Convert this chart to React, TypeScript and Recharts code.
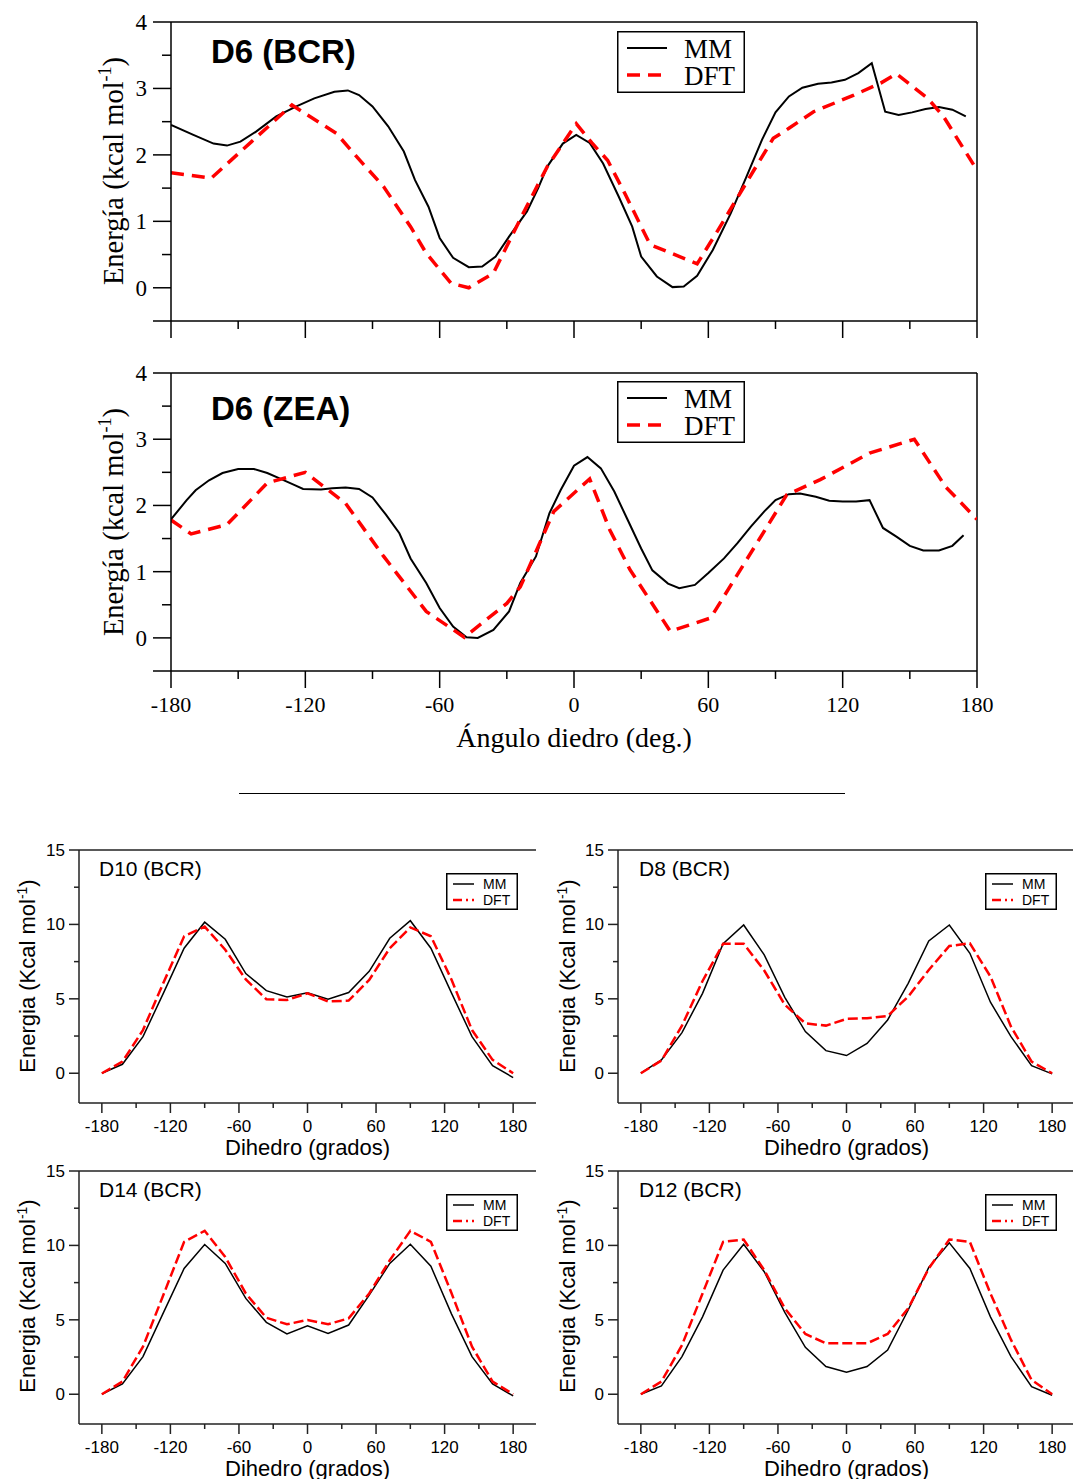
import { LineChart, Line, XAxis, YAxis, ReferenceLine, Legend } from 'recharts';

const SERIF = '"Liberation Serif", "Times New Roman", serif';
const SANS = '"Liberation Sans", Arial, sans-serif';

// ---- D6 (BCR) ----
const d6BcrMmAngles = [-180, -170, -161, -155, -149, -142, -133, -124, -116, -107, -101, -96, -90, -83, -76, -71, -65, -60, -54, -47, -41, -35, -29, -21, -16, -12, -5, 1, 7, 13, 20, 26, 30, 37, 44, 49, 55, 62, 70, 77, 84, 90, 96, 102, 109, 115, 121, 127, 133, 139, 145, 151, 157, 163, 169, 175];
const d6BcrMmEnergy = [2.45, 2.3, 2.17, 2.14, 2.2, 2.35, 2.58, 2.73, 2.85, 2.95, 2.97, 2.9, 2.73, 2.43, 2.05, 1.62, 1.22, 0.75, 0.45, 0.31, 0.32, 0.47, 0.77, 1.15, 1.5, 1.82, 2.17, 2.3, 2.18, 1.87, 1.37, 0.92, 0.47, 0.17, 0.01, 0.02, 0.18, 0.57, 1.12, 1.67, 2.23, 2.64, 2.88, 3.01, 3.07, 3.09, 3.13, 3.23, 3.38, 2.65, 2.6, 2.64, 2.69, 2.72, 2.68, 2.58];
const d6BcrDftAngles = [-180, -162, -144, -126, -106, -97, -85, -73, -66, -55, -47, -36, -23, -12, 1, 8, 15, 23, 34, 55, 64, 72, 80, 89, 96, 107, 125, 137, 144, 158, 165, 180];
const d6BcrDftEnergy = [1.73, 1.65, 2.2, 2.75, 2.32, 1.97, 1.52, 0.92, 0.52, 0.07, 0.0, 0.22, 1.1, 1.82, 2.47, 2.18, 1.92, 1.4, 0.65, 0.36, 0.85, 1.3, 1.75, 2.25, 2.4, 2.65, 2.9, 3.08, 3.22, 2.85, 2.58, 1.77];

// ---- D6 (ZEA) ----
const d6ZeaMmAngles = [-180, -173, -169, -163, -157, -150, -143, -137, -131, -125, -121, -113, -108, -102, -96, -90, -84, -78, -73, -66, -60, -54, -48, -43, -36, -29, -24, -17, -11, -6, 0, 6, 12, 18, 24, 30, 35, 42, 47, 54, 60, 67, 73, 79, 85, 90, 96, 101, 108, 114, 120, 126, 132, 138, 144, 150, 156, 163, 169, 174];
const d6ZeaMmEnergy = [1.79, 2.08, 2.23, 2.38, 2.49, 2.55, 2.55, 2.49, 2.4, 2.31, 2.25, 2.24, 2.26, 2.27, 2.25, 2.12, 1.86, 1.58, 1.2, 0.83, 0.45, 0.17, 0.01, 0.0, 0.12, 0.4, 0.83, 1.23, 1.88, 2.23, 2.6, 2.73, 2.56, 2.21, 1.78, 1.35, 1.02, 0.82, 0.75, 0.8, 0.98, 1.2, 1.43, 1.68, 1.91, 2.08, 2.17, 2.18, 2.13, 2.07, 2.06, 2.06, 2.08, 1.66, 1.53, 1.39, 1.32, 1.32, 1.39, 1.55];
const d6ZeaDftAngles = [-180, -171, -155, -137, -120, -102, -85, -66, -49, -30, -24, -9, 7, 16, 25, 43, 61, 95, 110, 132, 152, 166, 180];
const d6ZeaDftEnergy = [1.78, 1.57, 1.71, 2.34, 2.5, 2.03, 1.23, 0.4, 0.01, 0.52, 0.77, 1.91, 2.4, 1.63, 1.03, 0.1, 0.3, 2.16, 2.39, 2.79, 3.0, 2.28, 1.79];

// ---- bottom panels, every 18 degrees ----
const dihedralAngles = [-180, -162, -144, -126, -108, -90, -72, -54, -36, -18, 0, 18, 36, 54, 72, 90, 108, 126, 144, 162, 180];
const d10Mm = [0, 0.6, 2.46, 5.4, 8.4, 10.15, 9.0, 6.7, 5.55, 5.13, 5.4, 4.97, 5.42, 6.85, 9.07, 10.25, 8.4, 5.4, 2.46, 0.51, -0.29];
const d10Dft = [0, 0.78, 2.9, 6.1, 9.2, 9.85, 8.3, 6.3, 4.97, 4.92, 5.37, 4.82, 4.88, 6.27, 8.4, 9.8, 9.2, 6.3, 2.9, 0.9, 0];
const d8Mm = [0, 0.9, 2.73, 5.37, 8.7, 9.96, 7.95, 5.1, 2.8, 1.52, 1.19, 2.0, 3.58, 6.04, 8.89, 9.96, 8.06, 4.77, 2.46, 0.51, -0.04];
const d8Dft = [0, 0.85, 3.2, 6.2, 8.7, 8.7, 6.9, 4.6, 3.35, 3.2, 3.65, 3.7, 3.85, 5.15, 6.94, 8.55, 8.73, 6.5, 3.13, 0.78, 0];
const d14Mm = [0, 0.69, 2.53, 5.5, 8.45, 10.06, 8.79, 6.44, 4.83, 4.05, 4.6, 4.09, 4.65, 6.66, 8.79, 10.08, 8.6, 5.4, 2.53, 0.69, -0.11];
const d14Dft = [0, 0.85, 3.2, 6.7, 10.24, 10.98, 9.23, 6.77, 5.14, 4.7, 4.99, 4.7, 5.1, 6.77, 9.0, 10.98, 10.24, 6.8, 3.2, 0.85, 0];
const d12Mm = [0, 0.56, 2.53, 5.2, 8.34, 10.08, 8.23, 5.5, 3.15, 1.86, 1.48, 1.86, 2.97, 5.66, 8.52, 10.17, 8.45, 5.2, 2.53, 0.51, -0.07];
const d12Dft = [0, 0.85, 3.3, 6.77, 10.24, 10.4, 8.34, 5.77, 4.05, 3.42, 3.42, 3.42, 4.05, 5.77, 8.45, 10.4, 10.24, 6.77, 3.65, 0.96, 0];

// ticks
const bigXTicks = [-180, -150, -120, -90, -60, -30, 0, 30, 60, 90, 120, 150, 180];
const bigXLabels = [-180, -120, -60, 0, 60, 120, 180];
const bigYTicks = [-0.5, 0, 0.5, 1, 1.5, 2, 2.5, 3, 3.5, 4];
const bigYLabels = [0, 1, 2, 3, 4];
const smallXTicks = bigXTicks;
const smallXLabels = bigXLabels;
const smallYTicks = [0, 2.5, 5, 7.5, 10, 12.5, 15];
const smallYLabels = [0, 5, 10, 15];

const toPoints = (angles: number[], values: number[]) =>
  angles.map((a, i) => ({ a, e: values[i] }));

const makeYTick = (longTicks: number[], labels: number[], major: number, minor: number, gap: number, font: string, size: number, color: string) =>
  (props: any) => {
    const { x, y, payload } = props;
    const v = payload.value;
    const len = longTicks.includes(v) ? major : minor;
    return (
      <g>
        <line x1={x - len} x2={x} y1={y} y2={y} stroke={color} strokeWidth={1.5} />
        {labels.includes(v) && (
          <text x={x - major - gap} y={y} dy="0.35em" textAnchor="end" fontFamily={font} fontSize={size} fill="#000">
            {v}
          </text>
        )}
      </g>
    );
  };

const makeXTick = (labels: number[], showLabels: boolean, major: number, minor: number, labelDy: number, font: string, size: number, color: string) =>
  (props: any) => {
    const { x, y, payload } = props;
    const v = payload.value;
    const len = labels.includes(v) ? major : minor;
    return (
      <g>
        <line x1={x} x2={x} y1={y} y2={y + len} stroke={color} strokeWidth={1.5} />
        {showLabels && labels.includes(v) && (
          <text x={x} y={y + labelDy} textAnchor="middle" fontFamily={font} fontSize={size} fill="#000">
            {v}
          </text>
        )}
      </g>
    );
  };

function BigLegend() {
  return (
    <svg width={128} height={62}>
      <rect x={0.75} y={0.75} width={126.5} height={60.5} fill="#fff" stroke="#000" strokeWidth={1.5} />
      <line x1={10} x2={50} y1={17} y2={17} stroke="#000" strokeWidth={2} />
      <text x={67} y={27} fontFamily={SERIF} fontSize={27}>MM</text>
      <line x1={10} x2={50} y1={44} y2={44} stroke="#ff0000" strokeWidth={3.5} strokeDasharray="13 8" />
      <text x={67} y={54} fontFamily={SERIF} fontSize={27}>DFT</text>
    </svg>
  );
}

function SmallLegend() {
  return (
    <svg width={72} height={37}>
      <rect x={0.75} y={0.75} width={70.5} height={35.5} fill="#fff" stroke="#000" strokeWidth={1.5} />
      <line x1={7} x2={28} y1={11} y2={11} stroke="#000" strokeWidth={1.5} />
      <text x={37} y={16} fontFamily={SANS} fontSize={14}>MM</text>
      <line x1={7} x2={28} y1={27} y2={27} stroke="#ff0000" strokeWidth={2.5} strokeDasharray="9 4 2 4" />
      <text x={37} y={32} fontFamily={SANS} fontSize={14}>DFT</text>
    </svg>
  );
}

interface BigPanelProps {
  title: string;
  mm: { a: number; e: number }[];
  dft: { a: number; e: number }[];
  height: number;
  plotTop: number;
  xAxisHeight: number;
  showXLabels: boolean;
  titleY: number;
  labelY: number;
  legendTop: number;
}

function BigPanel({ title, mm, dft, height, plotTop, xAxisHeight, showXLabels, titleY, labelY, legendTop }: BigPanelProps) {
  return (
    <LineChart width={1073} height={height} margin={{ top: plotTop, right: 96, left: 0, bottom: 0 }}>
      <XAxis
        dataKey="a"
        type="number"
        domain={[-180, 180]}
        allowDataOverflow
        ticks={bigXTicks}
        interval={0}
        height={xAxisHeight}
        tickSize={0}
        tickMargin={0}
        tickLine={false}
        axisLine={{ stroke: '#000', strokeWidth: 1.5 }}
        tick={makeXTick(bigXLabels, showXLabels, 17, 8, 41, SERIF, 22, '#000')}
      />
      <YAxis
        type="number"
        domain={[-0.5, 4]}
        allowDataOverflow
        ticks={bigYTicks}
        interval={0}
        width={171}
        tickSize={0}
        tickMargin={0}
        tickLine={false}
        axisLine={{ stroke: '#000', strokeWidth: 1.5 }}
        tick={makeYTick([-0.5, 0, 1, 2, 3, 4], bigYLabels, 18, 9, 6, SERIF, 23, '#000')}
      />
      <ReferenceLine y={4} stroke="#000" strokeWidth={1.5} />
      <ReferenceLine x={180} stroke="#000" strokeWidth={1.5} />
      <Line data={mm} dataKey="e" type="linear" stroke="#000" strokeWidth={2} dot={false} isAnimationActive={false} />
      <Line data={dft} dataKey="e" type="linear" stroke="#ff0000" strokeWidth={3.5} strokeDasharray="13 8" dot={false} isAnimationActive={false} />
      <text x={211} y={titleY} fontFamily={SANS} fontWeight="bold" fontSize={33} fill="#000">{title}</text>
      <text transform={`translate(123, ${labelY}) rotate(-90)`} textAnchor="middle" fontFamily={SERIF} fontSize={28.5} fill="#000">
        Energía (kcal mol<tspan dy={-12} fontSize={18}>-1</tspan><tspan dy={12}>)</tspan>
      </text>
      {showXLabels && (
        <text x={574} y={height - xAxisHeight + 76} textAnchor="middle" fontFamily={SERIF} fontSize={28} fill="#000">
          Ángulo diedro (deg.)
        </text>
      )}
      <Legend
        layout="horizontal"
        verticalAlign="middle"
        align="center"
        wrapperStyle={{ position: 'absolute', left: 617, top: legendTop, width: 128, height: 62 }}
        content={() => <BigLegend />}
      />
    </LineChart>
  );
}

interface SmallPanelProps {
  title: string;
  mm: number[];
  dft: number[];
  height: number;
  width: number;
  yAxisWidth: number;
  plotTop: number;
  plotRight: number;
  xAxisHeight: number;
  titleY: number;
  labelY: number;
  legendLeft: number;
  legendTop: number;
}

function SmallPanel({ title, mm, dft, height, width, yAxisWidth, plotTop, plotRight, xAxisHeight, titleY, labelY, legendLeft, legendTop }: SmallPanelProps) {
  const data = dihedralAngles.map((a, i) => ({ a, mm: mm[i], dft: dft[i] }));
  const centerX = yAxisWidth + 22.9 + 180 * 1.143;
  return (
    <LineChart width={width} height={height} data={data} margin={{ top: plotTop, right: plotRight, left: 0, bottom: 0 }}>
      <XAxis
        dataKey="a"
        type="number"
        domain={[-200, 200]}
        allowDataOverflow
        ticks={smallXTicks}
        interval={0}
        height={xAxisHeight}
        tickSize={0}
        tickMargin={0}
        tickLine={false}
        axisLine={{ stroke: '#222', strokeWidth: 1.5 }}
        tick={makeXTick(smallXLabels, true, 10, 5, 29, SANS, 17, '#222')}
      />
      <YAxis
        type="number"
        domain={[-2, 15]}
        allowDataOverflow
        ticks={smallYTicks}
        interval={0}
        width={yAxisWidth}
        tickSize={0}
        tickMargin={0}
        tickLine={false}
        axisLine={{ stroke: '#222', strokeWidth: 1.5 }}
        tick={makeYTick(smallYLabels, smallYLabels, 10, 5, 4, SANS, 17, '#222')}
      />
      <ReferenceLine y={15} stroke="#222" strokeWidth={1.5} />
      <Line dataKey="mm" type="linear" stroke="#000" strokeWidth={1.5} dot={false} isAnimationActive={false} />
      <Line dataKey="dft" type="linear" stroke="#ff0000" strokeWidth={2.5} strokeDasharray="10 4" dot={false} isAnimationActive={false} />
      <text x={99} y={titleY} fontFamily={SANS} fontSize={21} fill="#000">{title}</text>
      <text transform={`translate(35, ${labelY}) rotate(-90)`} textAnchor="middle" fontFamily={SANS} fontSize={22} fill="#000">
        Energia (Kcal mol<tspan dy={-8} fontSize={14}>-1</tspan><tspan dy={8}>)</tspan>
      </text>
      <text x={centerX} y={height - xAxisHeight + 52} textAnchor="middle" fontFamily={SANS} fontSize={22} fill="#000">
        Dihedro (grados)
      </text>
      <Legend
        layout="horizontal"
        verticalAlign="middle"
        align="center"
        wrapperStyle={{ position: 'absolute', left: legendLeft, top: legendTop, width: 72, height: 37 }}
        content={() => <SmallLegend />}
      />
    </LineChart>
  );
}

export default function App() {
  return (
    <div style={{ position: 'absolute', left: 0, top: 0, width: 1073, height: 1479, overflow: 'hidden', background: '#fff' }}>
      <div style={{ position: 'absolute', left: 0, top: 0 }}>
        <BigPanel
          title="D6 (BCR)"
          mm={toPoints(d6BcrMmAngles, d6BcrMmEnergy)}
          dft={toPoints(d6BcrDftAngles, d6BcrDftEnergy)}
          height={345}
          plotTop={22}
          xAxisHeight={24}
          showXLabels={false}
          titleY={63}
          labelY={171}
          legendTop={31}
        />
      </div>
      <div style={{ position: 'absolute', left: 0, top: 345 }}>
        <BigPanel
          title="D6 (ZEA)"
          mm={toPoints(d6ZeaMmAngles, d6ZeaMmEnergy)}
          dft={toPoints(d6ZeaDftAngles, d6ZeaDftEnergy)}
          height={415}
          plotTop={28}
          xAxisHeight={89}
          showXLabels={true}
          titleY={75}
          labelY={177}
          legendTop={36}
        />
      </div>
      <div style={{ position: 'absolute', left: 239, top: 793, width: 606, height: 1, background: '#000' }} />
      <div style={{ position: 'absolute', left: 0, top: 800 }}>
        <SmallPanel title="D10 (BCR)" mm={d10Mm} dft={d10Dft} width={545} height={360} yAxisWidth={79} plotTop={50} plotRight={9} xAxisHeight={57} titleY={76} labelY={176} legendLeft={446} legendTop={73} />
      </div>
      <div style={{ position: 'absolute', left: 540, top: 800 }}>
        <SmallPanel title="D8 (BCR)" mm={d8Mm} dft={d8Dft} width={540} height={360} yAxisWidth={78} plotTop={50} plotRight={5} xAxisHeight={57} titleY={76} labelY={176} legendLeft={445} legendTop={73} />
      </div>
      <div style={{ position: 'absolute', left: 0, top: 1160 }}>
        <SmallPanel title="D14 (BCR)" mm={d14Mm} dft={d14Dft} width={545} height={319} yAxisWidth={79} plotTop={11} plotRight={9} xAxisHeight={55} titleY={37} labelY={136} legendLeft={446} legendTop={34} />
      </div>
      <div style={{ position: 'absolute', left: 540, top: 1160 }}>
        <SmallPanel title="D12 (BCR)" mm={d12Mm} dft={d12Dft} width={540} height={319} yAxisWidth={78} plotTop={11} plotRight={5} xAxisHeight={55} titleY={37} labelY={136} legendLeft={445} legendTop={34} />
      </div>
    </div>
  );
}
